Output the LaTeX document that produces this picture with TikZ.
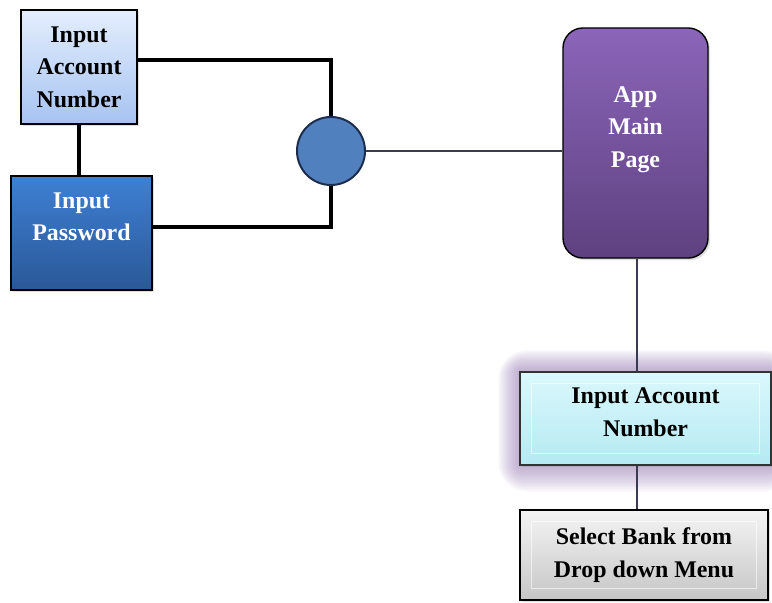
\documentclass[tikz,border=0pt]{standalone}
\usepackage{fontspec}
\setmainfont{Liberation Serif}
\usepackage{xcolor}
\usepackage{tikz}
\usetikzlibrary{calc,shadows}

\definecolor{paleblue}{HTML}{E4EEFD}
\definecolor{skyblue}{HTML}{A6C3F1}
\definecolor{midblue}{HTML}{3E80D3}
\definecolor{deepblue}{HTML}{2A5898}
\definecolor{hubblue}{HTML}{5081BE}
\definecolor{hubedge}{HTML}{1C2C4C}
\definecolor{lightviolet}{HTML}{8B65B9}
\definecolor{darkviolet}{HTML}{5E4180}
\definecolor{glowviolet}{HTML}{8A6AAA}
\definecolor{paletint}{HTML}{DAF8FC}
\definecolor{cyantint}{HTML}{B5EAF2}
\definecolor{lightgrey}{HTML}{F4F4F4}
\definecolor{midgrey}{HTML}{C6C6C6}
\definecolor{wire}{HTML}{3A3A52}

\begin{document}
\begin{tikzpicture}[x=0.025cm,y=-0.025cm,
    every node/.style={font=\bfseries\fontsize{17}{23}\selectfont,align=center,inner sep=0pt},
    box/.style={draw=black,line width=1pt,drop shadow={shadow xshift=1.5pt,shadow yshift=-1.5pt,opacity=0.25}},
    thick wire/.style={line width=2.6pt,black},
    thin wire/.style={line width=0.9pt,wire}]
    \useasboundingbox (0,0) rectangle (772,603);
    % left part
    \node[box,top color=paleblue,bottom color=skyblue,minimum width=2.9cm,minimum height=2.85cm] (acct) at (79,67) {Input\\Account\\Number};
    \node[box,top color=midblue,bottom color=deepblue,text=white,minimum width=3.525cm,minimum height=2.85cm] (pass) at (81.5,233) {Input\\Password\\[0pt]\mbox{}};
    \node[circle,draw=hubedge,line width=1.4pt,fill=hubblue,minimum size=1.7cm] (hub) at (331,151) {};
    % app page
    \node[box,rounded corners=0.5cm,top color=lightviolet,bottom color=darkviolet,text=white,minimum width=3.625cm,minimum height=5.75cm] (app) at (635.5,143) {App\\Main\\Page\\[0pt]\mbox{}};
    % glow round second account box
    \foreach \g in {1,...,12}
        \fill[glowviolet,opacity=0.06,rounded corners=\g*0.06cm] (520-1.8*\g,372-1.8*\g) rectangle (771+1.8*\g,465+2.2*\g);
    \node[box,top color=paletint,bottom color=cyantint,draw=black!80,minimum width=6.275cm,minimum height=2.325cm] (acct2) at (645.5,418.5) {Input Account\\Number\\[-14pt]\mbox{}};
    \draw[white,opacity=0.6,line width=0.8pt] ($(acct2.south west)+(0.3cm,0.3cm)$) rectangle ($(acct2.north east)+(-0.3cm,-0.3cm)$);
    \node[box,top color=lightgrey,bottom color=midgrey,minimum width=6.2cm,minimum height=2.25cm] (bank) at (644,555) {Select Bank from\\Drop down Menu};
    \draw[white,opacity=0.6,line width=0.8pt] ($(bank.south west)+(0.3cm,0.3cm)$) rectangle ($(bank.north east)+(-0.3cm,-0.3cm)$);
    % connectors
    \draw[thick wire] (acct.south) -- (acct.south |- pass.north);
    \draw[thick wire] ([yshift=0.175cm]acct.east) -| (hub.north);
    \draw[thick wire] ([yshift=0.15cm]pass.east) -| (hub.south);
    \draw[thin wire] (hub.east) -- (app.west |- hub.east);
    \draw[thin wire] ([xshift=0.04cm]app.south) -- ([xshift=0.04cm]app.south |- acct2.north);
    \draw[thin wire] ([xshift=0.04cm]app.south |- acct2.south) -- ([xshift=0.04cm]app.south |- bank.north);
\end{tikzpicture}
\end{document}
